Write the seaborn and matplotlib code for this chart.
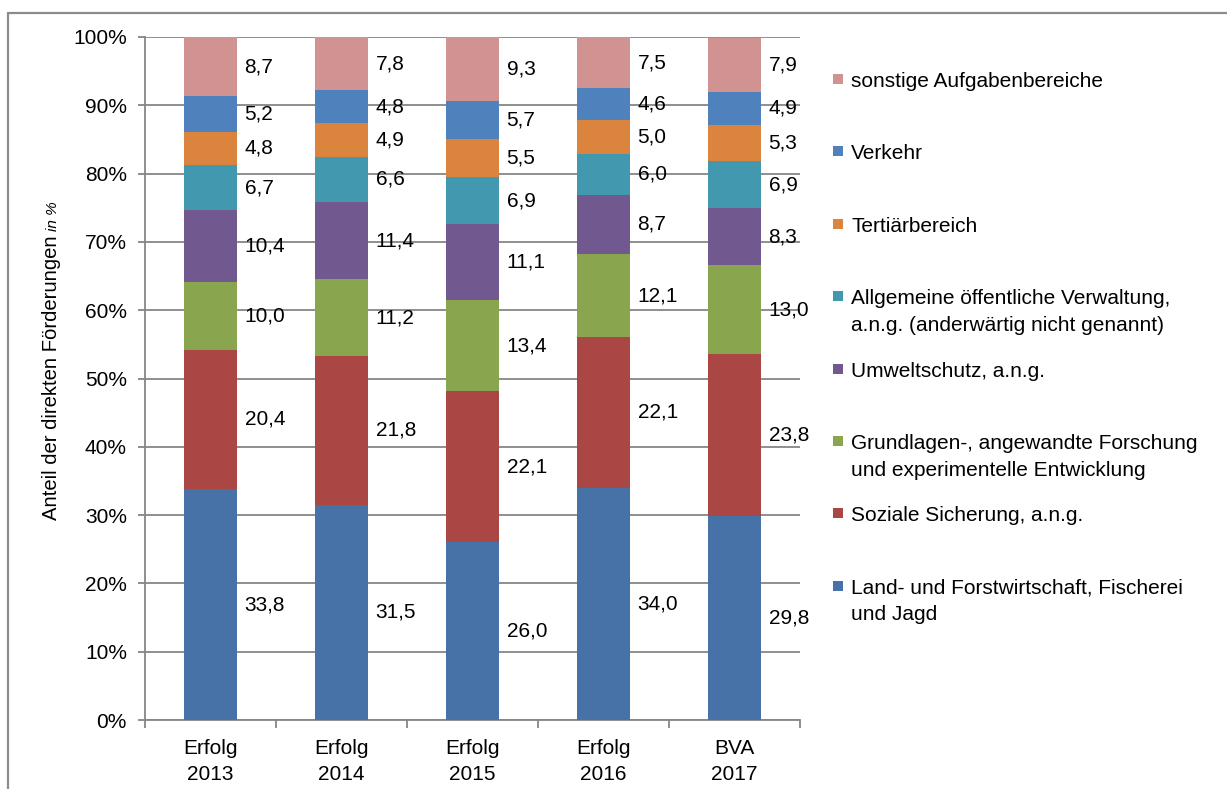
import matplotlib
matplotlib.use("Agg")
import matplotlib.pyplot as plt
from matplotlib.patches import Rectangle
from matplotlib.ticker import FixedLocator, PercentFormatter
import numpy as np
import pandas as pd
import seaborn as sns

# ---- data -----------------------------------------------------------------
categories = ["Erfolg\n2013", "Erfolg\n2014", "Erfolg\n2015", "Erfolg\n2016", "BVA\n2017"]

land = [33.8, 31.5, 26.0, 34.0, 29.8]
sozial = [20.4, 21.8, 22.1, 22.1, 23.8]
forschung = [10.0, 11.2, 13.4, 12.1, 13.0]
umwelt = [10.4, 11.4, 11.1, 8.7, 8.3]
verwaltung = [6.7, 6.6, 6.9, 6.0, 6.9]
tertiaer = [4.8, 4.9, 5.5, 5.0, 5.3]
verkehr = [5.2, 4.8, 5.7, 4.6, 4.9]
sonstige = [8.7, 7.8, 9.3, 7.5, 7.9]

series_names = [
    "Land- und Forstwirtschaft, Fischerei\nund Jagd",
    "Soziale Sicherung, a.n.g.",
    "Grundlagen-, angewandte Forschung\nund experimentelle Entwicklung",
    "Umweltschutz, a.n.g.",
    "Allgemeine öffentliche Verwaltung,\na.n.g. (anderwärtig nicht genannt)",
    "Tertiärbereich",
    "Verkehr",
    "sonstige Aufgabenbereiche",
]
series_values = [land, sozial, forschung, umwelt, verwaltung, tertiaer, verkehr, sonstige]
series_colors = ["#4672A8", "#AA4643", "#89A54E", "#71588F",
                 "#4198AF", "#DB843D", "#4F81BD", "#D19392"]

# ---- figure ---------------------------------------------------------------
W, H = 1227, 789
sns.set_theme(style="white")
plt.rcParams["font.family"] = ["Liberation Sans", "DejaVu Sans"]

fig = plt.figure(figsize=(W / 100, H / 100), dpi=100)
ax = fig.add_axes([145 / W, 1 - 720 / H, (800 - 145) / W, (720 - 37) / H])

FS = 15
GRID = "#868686"

# stacked bars: draw cumulative totals from the top layer down
data = pd.DataFrame(np.array(series_values).T, columns=series_names)
data["Kategorie"] = categories
cum = data[series_names].cumsum(axis=1)
for name, color in reversed(list(zip(series_names, series_colors))):
    sns.barplot(x=data["Kategorie"], y=cum[name], color=color, width=0.4,
                saturation=1, linewidth=0, ax=ax, zorder=3)

# value labels to the right of each segment
for i in range(len(categories)):
    bottom = 0.0
    for vals in series_values:
        v = vals[i]
        ax.text(i + 0.26, bottom + v / 2, f"{v:.1f}".replace(".", ","),
                ha="left", va="center", fontsize=FS, color="black", zorder=4)
        bottom += v

# axes styling
ax.set_ylim(0, 100)
ax.set_xlim(-0.5, len(categories) - 0.5)
ax.yaxis.set_major_locator(FixedLocator(np.arange(0, 101, 10)))
ax.yaxis.set_major_formatter(PercentFormatter(decimals=0))
ax.grid(axis="y", color=GRID, linewidth=1.3, zorder=0)
ax.set_axisbelow(True)
for side in ["top", "right"]:
    ax.spines[side].set_visible(False)
for side in ["left", "bottom"]:
    ax.spines[side].set_color(GRID)
    ax.spines[side].set_linewidth(1.3)
ax.set_xlabel("")
ax.set_ylabel("")
ax.tick_params(axis="y", which="major", length=5, width=1.3, color=GRID,
               labelsize=FS, labelcolor="black", pad=8, left=True)
ax.tick_params(axis="x", which="major", length=0, labelsize=FS,
               labelcolor="black", pad=14)
ax.set_xticks(np.arange(-0.5, len(categories), 1.0), minor=True)
ax.tick_params(axis="x", which="minor", length=6, width=1.3, color=GRID,
               bottom=True)
for lbl in ax.get_xticklabels():
    lbl.set_linespacing(1.45)

# y-axis title with smaller italic unit
x_base = 57 / W
y_mid = 1 - 378 / H
main = fig.text(x_base, y_mid, "Anteil der direkten Förderungen", rotation=90,
                rotation_mode="anchor", ha="center", va="baseline",
                fontsize=14.6, color="black")
fig.canvas.draw()
bb = main.get_window_extent(fig.canvas.get_renderer())
fig.text(x_base, (bb.y1 + 5) / H, "in %", rotation=90, rotation_mode="anchor",
         ha="left", va="baseline", fontsize=11, style="italic", color="black")

# legend, entries listed from top layer to bottom layer
leg_x_box = 833 / W
leg_x_txt = 851 / W
for k, (name, color) in enumerate(reversed(list(zip(series_names, series_colors)))):
    yc = 79 + k * 72.4
    fig.add_artist(Rectangle((leg_x_box, 1 - (yc + 5) / H), 10 / W, 10 / H,
                             transform=fig.transFigure, facecolor=color,
                             edgecolor="none"))
    fig.text(leg_x_txt, 1 - (yc - 7) / H, name, ha="left", va="top",
             fontsize=FS, color="black", linespacing=1.5)

# outer frame
fig.add_artist(Rectangle((8 / W, -0.2), 1.5, 1.2 - 13 / H,
                         transform=fig.transFigure, fill=False,
                         edgecolor="#8C8C8C", linewidth=1.6, clip_on=False))

fig.savefig("out.png", dpi=100)
